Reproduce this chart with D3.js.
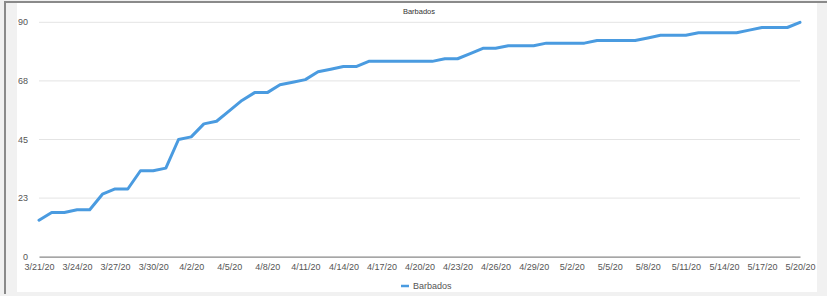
<!DOCTYPE html>
<html>
<head>
<meta charset="utf-8">
<script src="https://cdn.jsdelivr.net/npm/d3@7"></script>
<style>
  body { margin: 0; background: #fff; }
  svg { display: block; font-family: "Liberation Sans", Arial, sans-serif; }
</style>
</head>
<body>
<div id="chart"></div>
<script>
// Barbados cumulative cases, one value per day from 3/21/20 to 5/20/20
const startDate = new Date(2020, 2, 21);
const cases = [
    14, 17, 17, 18, 18, 24, 26, 26, 33, 33,
    34, 45, 46, 51, 52, 56, 60, 63, 63, 66,
    67, 68, 71, 72, 73, 73, 75, 75, 75, 75,
    75, 75, 76, 76, 78, 80, 80, 81, 81, 81,
    82, 82, 82, 82, 83, 83, 83, 83, 84, 85,
    85, 85, 86, 86, 86, 86, 87, 88, 88, 88,
    90
];
const xTickLabels = ['3/21/20', '3/24/20', '3/27/20', '3/30/20', '4/2/20', '4/5/20', '4/8/20',
    '4/11/20', '4/14/20', '4/17/20', '4/20/20', '4/23/20', '4/26/20', '4/29/20', '5/2/20',
    '5/5/20', '5/8/20', '5/11/20', '5/14/20', '5/17/20', '5/20/20'];
const yTickValues = [0, 22.5, 45, 67.5, 90];
const yTickLabels = ['0', '23', '45', '68', '90'];

const dates = cases.map((c, i) => d3.timeDay.offset(startDate, i));
const data = cases.map((c, i) => ({ date: dates[i], value: c }));

const width = 827, height = 296;

const svg = d3.select('#chart')
    .append('svg')
    .attr('width', width)
    .attr('height', height);

// frame
svg.append('rect')
    .attr('width', width)
    .attr('height', height)
    .attr('fill', '#f1f1f1');
svg.append('rect')
    .attr('x', 17)
    .attr('y', 3)
    .attr('width', 800)
    .attr('height', 289)
    .attr('fill', '#fff');
svg.append('line')
    .attr('x1', 5).attr('y1', 2).attr('x2', 5).attr('y2', 294)
    .attr('stroke', '#8a8a8a').attr('stroke-width', 2);
svg.append('line')
    .attr('x1', 4).attr('y1', 2).attr('x2', width).attr('y2', 2)
    .attr('stroke', '#8a8a8a').attr('stroke-width', 2);

const x = d3.scaleTime()
    .domain([dates[0], dates[dates.length - 1]])
    .range([39, 800]);

const y = d3.scaleLinear()
    .domain([0, 90])
    .range([256.7, 22.3]);

// gridlines
svg.append('g')
    .selectAll('line')
    .data(yTickValues.slice(1))
    .join('line')
    .attr('x1', 39)
    .attr('x2', 800)
    .attr('y1', d => y(d))
    .attr('y2', d => y(d))
    .attr('stroke', '#e4e4e4')
    .attr('stroke-width', 1);

// y axis labels
svg.append('g')
    .selectAll('text')
    .data(yTickValues)
    .join('text')
    .attr('x', 28)
    .attr('y', d => y(d))
    .attr('dy', '0.35em')
    .attr('text-anchor', 'end')
    .attr('font-size', 9)
    .attr('fill', '#555')
    .text((d, i) => yTickLabels[i]);

// x axis
const xAxis = d3.axisBottom(x)
    .tickValues(xTickLabels.map((l, i) => dates[i * 3]))
    .tickSize(0)
    .tickPadding(7)
    .tickFormat((d, i) => xTickLabels[i]);

const gx = svg.append('g')
    .attr('transform', `translate(0,${y(0)})`)
    .call(xAxis);
gx.select('.domain').attr('stroke', '#888').attr('stroke-width', 1.2);
gx.selectAll('text')
    .attr('font-size', 9)
    .attr('font-family', '"Liberation Sans", Arial, sans-serif')
    .attr('fill', '#555');

// line
const line = d3.line()
    .x(d => x(d.date))
    .y(d => y(d.value));

svg.append('path')
    .datum(data)
    .attr('d', line)
    .attr('fill', 'none')
    .attr('stroke', '#4a9be0')
    .attr('stroke-width', 3)
    .attr('stroke-linejoin', 'round')
    .attr('stroke-linecap', 'round');

// title
svg.append('text')
    .attr('x', 419)
    .attr('y', 13.5)
    .attr('text-anchor', 'middle')
    .attr('font-size', 7.5)
    .attr('fill', '#333')
    .text('Barbados');

// legend
svg.append('line')
    .attr('x1', 401).attr('x2', 409)
    .attr('y1', 286).attr('y2', 286)
    .attr('stroke', '#4a9be0')
    .attr('stroke-width', 2.5);
svg.append('text')
    .attr('x', 413)
    .attr('y', 286)
    .attr('dy', '0.35em')
    .attr('font-size', 9)
    .attr('fill', '#555')
    .text('Barbados');
</script>
</body>
</html>
